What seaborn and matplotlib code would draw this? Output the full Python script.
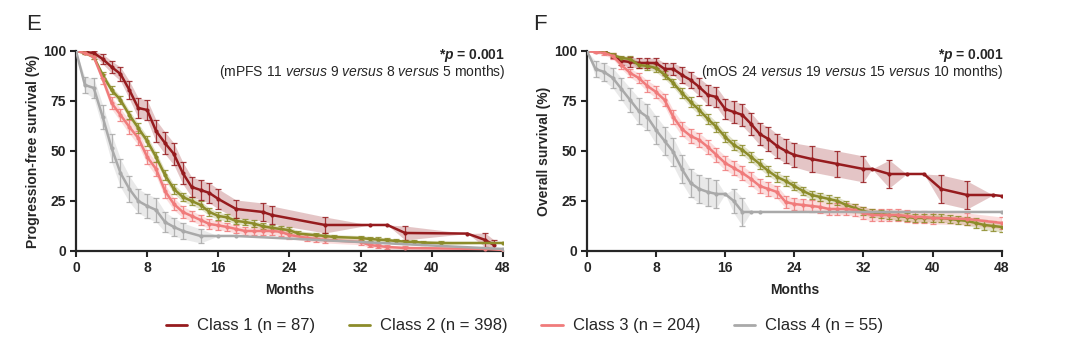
import numpy as np
import pandas as pd
import seaborn as sns
import matplotlib.pyplot as plt
from matplotlib.lines import Line2D

# ---- data (months, survival %, error half-width %) ----
class_labels = ["Class 1 (n = 87)", "Class 2 (n = 398)", "Class 3 (n = 204)", "Class 4 (n = 55)"]
class_colors = ["#961b1e", "#8c8c2a", "#f07b7b", "#a9a9a9"]

# Panel E: progression-free survival
pfs1_t = [0, 1, 2, 3, 4, 5, 6, 7, 8, 9, 10, 11, 12, 13, 14, 15, 16, 18, 21, 22, 28, 33, 35, 37, 44, 46, 47]
pfs1_s = [100, 99.5, 99, 96, 92, 88.5, 80.5, 71.5, 70.5, 60, 54, 48.5, 39, 32, 30.5, 29, 26, 21, 19.5, 18, 13, 13, 13, 9, 8.7, 5.5, 3]
pfs1_e = [0, 0.5, 1, 2.5, 3, 3.5, 4.5, 5, 5, 5.5, 5.5, 5.5, 5.5, 5, 5, 5, 5, 4.5, 4.5, 4.5, 4, 0, 0, 3.5, 0, 3.5, 2.5]

pfs2_t = list(range(0, 26)) + [27, 28, 29, 32, 33, 34, 35, 36, 37, 38, 39, 41, 48]
pfs2_s = [100, 99, 97, 88, 80.5, 75.5, 68, 61.5, 55, 47, 38, 31, 27, 25, 23, 19.5, 17.5, 16.8, 15, 14.5,
          13.7, 12.4, 11.6, 11, 10.4, 8.7, 7.9, 7.5, 7, 6.5, 6, 5.7, 5.4, 5, 4.7, 4.5, 4.2, 4, 4]
pfs2_e = [0, 0.5, 1, 1.5, 1.8, 2, 2.2, 2.3, 2.4, 2.5, 2.4, 2.3, 2.2, 2.1, 2, 2, 1.8, 1.8, 1.7, 1.7,
          1.6, 1.6, 1.5, 1.5, 1.5, 1.4, 1.3, 1.3, 1.2, 1.2, 1.2, 1.1, 1.1, 1, 1, 1, 1, 0.9, 0]

pfs3_t = list(range(0, 25)) + [26, 27, 28, 32, 33, 34, 35, 37, 46, 48]
pfs3_s = [100, 99, 97, 86, 74, 68, 62, 56.5, 47, 41, 30, 23.5, 19.5, 17.5, 15.5, 13.5, 12.8, 12, 11, 10,
          10, 10, 10, 9.6, 8, 6.5, 6, 5.5, 4.5, 3, 2.5, 2, 1.5, 1, 0.5]
pfs3_e = [0, 0.5, 1, 2.5, 3, 3.2, 3.4, 3.5, 3.5, 3.5, 3.3, 3, 2.8, 2.6, 2.5, 2.3, 2.2, 2.1, 2, 2,
          2, 2, 2, 1.9, 1.8, 1.7, 1.6, 1.5, 1.4, 1.2, 1, 1, 0.8, 0.5, 0]

pfs4_t = [0, 1, 2, 3, 4, 5, 6, 7, 8, 9, 10, 11, 12, 14, 16, 18, 48]
pfs4_s = [100, 83, 81.5, 67, 51.5, 39, 31, 25, 22.5, 20.5, 14.5, 12, 10, 7.5, 7.5, 7.5, 1]
pfs4_e = [0, 4, 5, 6, 7, 7, 6.5, 6, 6, 6, 5, 4.5, 4, 3.5, 0, 0, 0]

# Panel F: overall survival
os1_t = list(range(0, 25)) + [26, 29, 32, 33, 35, 37, 39, 41, 44, 47, 48]
os1_s = [100, 100, 100, 97.5, 95, 94.5, 94, 94, 94, 91, 91, 88, 85.5, 82, 78, 77, 71, 69.5, 68, 63.5,
         58.5, 56, 52.5, 50, 48, 46, 43.5, 41, 41, 38.5, 38.5, 38.5, 31, 28, 28, 27.5]
os1_e = [0, 0, 0, 1, 2, 2.5, 2.5, 2.5, 2.5, 3, 3, 4, 4, 4.5, 5, 5, 5, 5.5, 5.5, 5.5,
         5.5, 6, 6, 6, 6, 6.5, 6.5, 6.5, 0, 7, 0, 0, 7, 7, 0, 0]

os2_t = list(range(0, 49))
os2_s = [100, 100, 99.5, 98, 96.5, 96, 93, 92.5, 91.5, 88, 84, 79, 74.5, 70.5, 66, 62, 57, 53, 50.5, 47,
         43.5, 40, 37, 35, 32.5, 30, 28, 27, 26, 25, 23, 21.5, 20, 19, 18.5, 18, 17.5, 17, 16.5, 16.5,
         16.5, 16.5, 16, 15.5, 15, 14, 13, 12.5, 12]
os2_e = [0, 0, 0.5, 1, 1.2, 1.4, 1.6, 1.8, 2, 2, 2.2, 2.3, 2.4, 2.5, 2.5, 2.5, 2.5, 2.5, 2.5, 2.5,
         2.4, 2.4, 2.3, 2.3, 2.2, 2.2, 2.1, 2.1, 2, 2, 2, 2, 2, 2, 2, 2, 2, 2, 2, 2,
         2, 2, 2, 2, 2.2, 2.3, 2.4, 2.5, 2.5]

os3_t = list(range(0, 41)) + [44, 48]
os3_s = [100, 99.5, 99, 97.5, 93, 89, 86.5, 82.5, 79.5, 75.5, 67, 61, 57.5, 55.5, 52, 48, 44, 41.5, 39, 36,
         32.5, 31, 29.5, 24.5, 23.5, 23, 22.5, 22, 21, 21, 21, 20.5, 19, 18, 18, 18, 18, 17.5, 17, 17,
         16.5, 16, 14]
os3_e = [0, 0.5, 1, 1.5, 2, 2.2, 2.5, 2.8, 3, 3.2, 3.4, 3.5, 3.5, 3.5, 3.5, 3.5, 3.5, 3.5, 3.5, 3.5,
         3.4, 3.3, 3.2, 3, 3, 3, 3, 3, 3, 3, 3, 3, 3, 3, 3, 3, 3, 3, 3, 3,
         3, 3, 3]

os4_t = [0, 1, 2, 3, 4, 5, 6, 7, 8, 9, 10, 11, 12, 13, 14, 15, 16, 17, 18, 19, 20, 48]
os4_s = [100, 91, 89.5, 86.5, 81, 75.5, 70, 67, 60.5, 55, 49.5, 41, 34, 31, 29.5, 28.5, 28.5, 25, 19.5, 19.5, 19.5, 19.5]
os4_e = [0, 4, 4.5, 5, 5.5, 6, 6.5, 6.5, 7, 7, 7, 7, 7, 7, 7, 7, 0, 6, 7, 0, 0, 0]

panels = [
    ("E", "Progression-free survival (%)", "(mPFS 11 $\\mathit{versus}$ 9 $\\mathit{versus}$ 8 $\\mathit{versus}$ 5 months)",
     [(pfs1_t, pfs1_s, pfs1_e), (pfs2_t, pfs2_s, pfs2_e), (pfs3_t, pfs3_s, pfs3_e), (pfs4_t, pfs4_s, pfs4_e)]),
    ("F", "Overall survival (%)", "(mOS 24 $\\mathit{versus}$ 19 $\\mathit{versus}$ 15 $\\mathit{versus}$ 10 months)",
     [(os1_t, os1_s, os1_e), (os2_t, os2_s, os2_e), (os3_t, os3_s, os3_e), (os4_t, os4_s, os4_e)]),
]

sns.set_style("ticks")
plt.rcParams["font.family"] = ["Liberation Sans", "DejaVu Sans"]
plt.rcParams["mathtext.fontset"] = "custom"
plt.rcParams["mathtext.rm"] = "Liberation Sans"
plt.rcParams["mathtext.it"] = "Liberation Sans:italic"
plt.rcParams["mathtext.bf"] = "Liberation Sans:bold"
plt.rcParams["mathtext.bfit"] = "Liberation Sans:italic:bold"

fig = plt.figure(figsize=(10.69, 3.53), dpi=100)
ax_pos = [[0.0711, 0.289, 0.3994, 0.5666], [0.549, 0.289, 0.388, 0.5666]]
letter_x = [0.024, 0.499]

order = [3, 2, 1, 0]  # draw grey first, dark red on top
for p, (letter, ylabel, med_text, series) in enumerate(panels):
    ax = fig.add_axes(ax_pos[p])
    frames = []
    for i, (t, s, e) in enumerate(series):
        frames.append(pd.DataFrame({"month": t, "surv": s, "err": e, "cls": class_labels[i]}))
    df = pd.concat(frames, ignore_index=True)

    for i in order:
        d = df[df["cls"] == class_labels[i]]
        c = class_colors[i]
        ax.fill_between(d["month"], d["surv"] - d["err"], d["surv"] + d["err"],
                        color=c, alpha=0.25, linewidth=0, zorder=1 + i * 0.1)
        keep = d["err"] > 0
        ax.errorbar(d["month"][keep], d["surv"][keep], yerr=d["err"][keep], fmt="none",
                    ecolor=c, elinewidth=0.9, capsize=2.2, capthick=0.9, alpha=0.85, zorder=2)
    sns.lineplot(data=df, x="month", y="surv", hue="cls", hue_order=class_labels,
                 palette=class_colors, marker="o", markersize=3, markeredgewidth=0,
                 linewidth=1.8, ax=ax, legend=False, zorder=3, sort=False)

    ax.set_xlim(0, 48)
    ax.set_ylim(0, 100)
    ax.set_xticks(range(0, 49, 8))
    ax.set_yticks([0, 25, 50, 75, 100])
    ax.tick_params(axis="both", direction="out", length=4, width=1.5, labelsize=10, pad=3)
    for lab in ax.get_xticklabels() + ax.get_yticklabels():
        lab.set_fontweight("bold")
    ax.set_xlabel("Months", fontsize=10, fontweight="bold", labelpad=6)
    ax.set_ylabel(ylabel, fontsize=10, fontweight="bold", labelpad=2)
    sns.despine(ax=ax)
    for sp in ["left", "bottom"]:
        ax.spines[sp].set_linewidth(1.6)

    ax.text(1.005, 0.975, "*$\\mathbfit{p}$ = 0.001", transform=ax.transAxes, ha="right", va="center",
            fontsize=10, fontweight="bold")
    ax.text(1.005, 0.895, med_text, transform=ax.transAxes, ha="right", va="center", fontsize=10)
    fig.text(letter_x[p], 0.93, letter, fontsize=16, ha="left", va="center")

handles = [Line2D([0], [0], color=c, linewidth=2) for c in class_colors]
fig.legend(handles, class_labels, loc="center", bbox_to_anchor=(0.4907, 0.0765), ncol=4, frameon=False,
           fontsize=12, handlelength=1.3, handletextpad=0.6, columnspacing=2.0)

fig.savefig("out.png", dpi=100)
